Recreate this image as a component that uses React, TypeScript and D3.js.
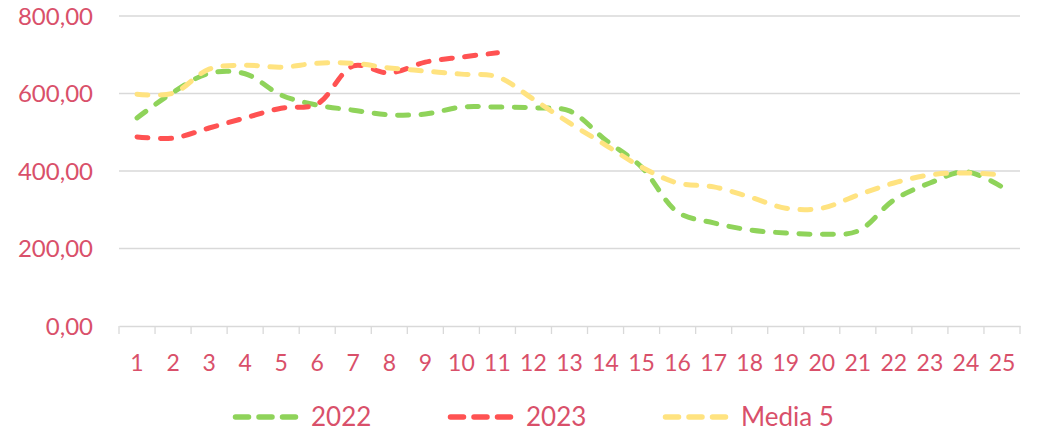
import React, { useEffect, useRef } from 'react';
import * as d3 from 'd3';

const categories = d3.range(1, 26).map(String);
const yTicks = [0, 200, 400, 600, 800];

const values2022 = [537, 603, 652, 651, 596, 570, 557, 545, 547, 565, 565, 563, 555, 480, 410, 294, 266, 248, 240, 237, 245, 325, 369, 398, 359];
const values2023 = [488, 485, 511, 537, 562, 573, 671, 653, 681, 694, 705];
const valuesMedia = [598, 601, 663, 673, 668, 678, 678, 666, 658, 650, 643, 585, 524, 467, 410, 369, 359, 333, 304, 304, 338, 369, 390, 395, 390];

const series = [
  { name: '2022', values: values2022, color: '#8FD35A' },
  { name: '2023', values: values2023, color: '#FF5252' },
  { name: 'Media 5', values: valuesMedia, color: '#FFE380' },
];

const textColor = '#D9506A';
const font = 'Lato, "Open Sans", sans-serif';

const App = () => {
  const svgRef = useRef<SVGSVGElement>(null);
  const width = 1038;
  const height = 433;

  useEffect(() => {
    d3.select(svgRef.current).selectAll('*').remove();
    const svg = d3.select(svgRef.current);

    const margin = { top: 16, right: 18, bottom: 107, left: 119 };
    const x = d3.scaleBand().domain(categories).range([margin.left, width - margin.right]);
    const y = d3.scaleLinear().domain([0, 800]).range([height - margin.bottom, margin.top]);

    // gridlines
    svg.append('g')
      .selectAll('line')
      .data(yTicks.filter(d => d > 0))
      .join('line')
      .attr('x1', margin.left)
      .attr('x2', width - margin.right)
      .attr('y1', d => y(d))
      .attr('y2', d => y(d))
      .attr('stroke', '#D9D9D9')
      .attr('stroke-width', 1.3);

    // y labels
    svg.append('g')
      .selectAll('text')
      .data(yTicks)
      .join('text')
      .attr('x', 93)
      .attr('y', d => y(d))
      .attr('dy', '0.36em')
      .attr('text-anchor', 'end')
      .attr('fill', textColor)
      .attr('font-family', font)
      .attr('font-size', 24)
      .text(d => d3.format('.2f')(d).replace('.', ','));

    // x axis
    const xAxis = d3.axisBottom(x).tickSize(0).tickPadding(0);
    const gx = svg.append('g')
      .attr('transform', `translate(0, ${y(0)})`)
      .call(xAxis);
    gx.select('.domain').attr('stroke', '#D9D9D9').attr('stroke-width', 1.3);
    gx.selectAll('.tick text')
      .attr('y', 29)
      .attr('fill', textColor)
      .attr('font-family', font)
      .attr('font-size', 23);
    const edges = [...categories.map(c => x(c)!), x(categories[categories.length - 1])! + x.bandwidth()];
    gx.selectAll('.edge')
      .data(edges)
      .join('line')
      .attr('class', 'edge')
      .attr('x1', d => d)
      .attr('x2', d => d)
      .attr('y1', 0)
      .attr('y2', 8)
      .attr('stroke', '#D9D9D9')
      .attr('stroke-width', 1.3);

    // lines
    const line = d3.line<number>()
      .x((_, i) => x(categories[i])! + x.bandwidth() / 2)
      .y(d => y(d))
      .curve(d3.curveCatmullRom.alpha(0.5));

    series.forEach(s => {
      svg.append('path')
        .datum(s.values)
        .attr('fill', 'none')
        .attr('stroke', s.color)
        .attr('stroke-width', 5)
        .attr('stroke-linecap', 'round')
        .attr('stroke-dasharray', '11,12.5')
        .attr('d', line);
    });

    // legend
    const legendX = [233, 448, 663];
    const legend = svg.append('g');
    series.forEach((s, i) => {
      const g = legend.append('g').attr('transform', `translate(${legendX[i]}, 417)`);
      g.append('line')
        .attr('x1', 2.5)
        .attr('x2', 63)
        .attr('stroke', s.color)
        .attr('stroke-width', 5.5)
        .attr('stroke-linecap', 'round')
        .attr('stroke-dasharray', '13,10.5');
      g.append('text')
        .attr('x', 78)
        .attr('dy', '0.36em')
        .attr('fill', textColor)
        .attr('font-family', font)
        .attr('font-size', 26)
        .text(s.name);
    });
  }, []);

  return (
    <svg
      ref={svgRef}
      width={width}
      height={height}
      style={{ position: 'absolute', left: 0, top: 0, background: '#fff' }}
    />
  );
};

export default App;
